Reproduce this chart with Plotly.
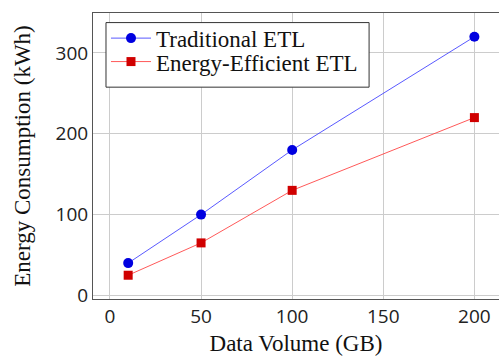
import plotly.graph_objects as go

data_volume = [10, 50, 100, 200]
traditional = [40, 100, 180, 320]
efficient = [25, 65, 130, 220]
x_ticks = [0, 50, 100, 150, 200]
y_ticks = [0, 100, 200, 300]

fig = go.Figure()
fig.add_trace(go.Scatter(
    x=data_volume, y=traditional, mode="lines+markers", name="Traditional ETL",
    line=dict(color="rgba(60,60,255,0.85)", width=1),
    marker=dict(symbol="circle", size=10, color="#0000e0"),
    legend="legend",
))
fig.add_trace(go.Scatter(
    x=data_volume, y=efficient, mode="lines+markers", name="Energy-Efficient ETL",
    line=dict(color="rgba(255,60,60,0.85)", width=1),
    marker=dict(symbol="square", size=9, color="#d00000"),
    legend="legend2",
))

legend_font = dict(family="Liberation Serif", size=23, color="#111111")
common_legend = dict(xanchor="left", yanchor="middle", bgcolor="rgba(0,0,0,0)",
                     borderwidth=0, font=legend_font, itemwidth=40)

# legend frame
fig.add_shape(type="rect", xref="paper", yref="paper",
              x0=0.032, x1=0.68, y0=0.7407, y1=0.9665,
              line=dict(color="#333333", width=1), fillcolor="white", layer="above")

fig.update_layout(
    width=499, height=356,
    margin=dict(l=93, r=0, t=13, b=57),
    plot_bgcolor="white", paper_bgcolor="white",
    showlegend=True,
    legend=dict(x=0.032, y=0.912, **common_legend),
    legend2=dict(x=0.032, y=0.830, **common_legend),
    xaxis=dict(
        range=[-9.3, 213.5], tickvals=x_ticks, automargin=False,
        showgrid=True, gridcolor="#cccccc", gridwidth=1,
        showline=True, linecolor="#555555", linewidth=1, mirror=True,
        zeroline=False, ticks="",
        tickfont=dict(family="Open Sans", size=19, color="#222222"),
        title=dict(text="Data Volume (GB)", font=dict(family="Liberation Serif", size=23, color="#111111"), standoff=8),
    ),
    yaxis=dict(
        range=[-4.4, 349.4], tickvals=y_ticks, automargin=False,
        showgrid=True, gridcolor="#cccccc", gridwidth=1,
        showline=True, linecolor="#555555", linewidth=1, mirror=False,
        zeroline=False, ticks="",
        tickfont=dict(family="Open Sans", size=19, color="#222222"),
        title=dict(text="Energy Consumption (kWh)", font=dict(family="Liberation Serif", size=23, color="#111111"), standoff=18),
    ),
)

fig.write_html(
    "out.html",
    config={"displayModeBar": False},
    post_script="document.body.style.margin='0';document.documentElement.style.overflow='hidden';document.body.style.overflow='hidden';",
)
